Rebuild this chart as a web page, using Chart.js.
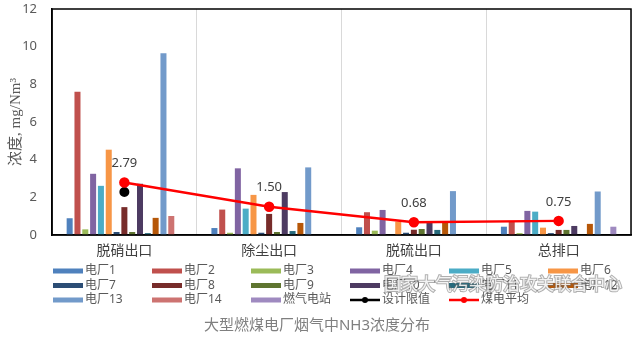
<!DOCTYPE html>
<html>
<head>
<meta charset="utf-8">
<script src="https://cdn.jsdelivr.net/npm/chart.js@4.4.1/dist/chart.umd.min.js"></script>
<style>
  html, body { margin: 0; padding: 0; background: #fff; }
  #wrap { width: 634px; height: 341px; }
</style>
</head>
<body>
<div id="wrap"><canvas id="nh3_chart" width="634" height="341"></canvas></div>
<script>
// categories and tick labels
const categories = ['脱硝出口', '除尘出口', '脱硫出口', '总排口'];
const yTicks = [0, 2, 4, 6, 8, 10, 12];

// NH3 concentration per plant, mg/Nm3
const plant1 = [0.89, 0.37, 0.41, 0.44];
const plant2 = [7.61, 1.35, 1.21, 0.71];
const plant3 = [0.30, 0.12, 0.23, 0.10];
const plant4 = [3.25, 3.54, 1.33, 1.28];
const plant5 = [2.61, 1.40, 0, 1.24];
const plant6 = [4.53, 2.13, 0.71, 0.39];
const plant7 = [0.16, 0.12, 0.12, 0.10];
const plant8 = [1.48, 1.12, 0.28, 0.27];
const plant9 = [0.16, 0.16, 0.32, 0.27];
const plant10 = [2.72, 2.28, 0.71, 0.48];
const plant11 = [0.10, 0.21, 0.27, 0];
const plant12 = [0.91, 0.64, 0.68, 0.59];
const plant13 = [9.65, 3.59, 2.33, 2.31];
const plant14 = [1.01, 0, 0, 0];
const gasPlant = [0, 0, 0, 0.44];
const designLimit = [2.28, null, null, null];
const coalAverage = [2.79, 1.50, 0.68, 0.75];

const barSeries = [
    ['电厂1', plant1, '#4F81BD'],
    ['电厂2', plant2, '#C0504D'],
    ['电厂3', plant3, '#9BBB59'],
    ['电厂4', plant4, '#8064A2'],
    ['电厂5', plant5, '#4BACC6'],
    ['电厂6', plant6, '#F79646'],
    ['电厂7', plant7, '#2C4D75'],
    ['电厂8', plant8, '#772C2A'],
    ['电厂9', plant9, '#5F7530'],
    ['电厂10', plant10, '#4D3B62'],
    ['电厂11', plant11, '#276A7C'],
    ['电厂12', plant12, '#B65708'],
    ['电厂13', plant13, '#729ACA'],
    ['电厂14', plant14, '#CD7371'],
    ['燃气电站', gasPlant, '#9F8AC0']
];

const cjk = "'Noto Sans', 'Noto Sans CJK SC', sans-serif";

const datasets = barSeries.map(([name, values, color]) => ({
    type: 'bar',
    label: name,
    data: values,
    backgroundColor: color,
    borderWidth: 0,
    categoryPercentage: 0.81,
    barPercentage: 0.77,
    order: 1
}));

datasets.push({
    type: 'line',
    label: '设计限值',
    data: designLimit,
    borderColor: '#000000',
    backgroundColor: '#000000',
    borderWidth: 2,
    pointRadius: 4,
    pointBackgroundColor: '#000000',
    pointBorderColor: '#000000',
    order: -1
});

datasets.push({
    type: 'line',
    label: '煤电平均',
    data: coalAverage,
    borderColor: '#FF0000',
    backgroundColor: '#FF0000',
    borderWidth: 2.5,
    pointRadius: 4,
    pointBackgroundColor: '#FF0000',
    pointBorderColor: '#FF0000',
    order: -2,
    showValues: true
});

// frame, y title, value labels, legend grid, caption, watermark
const decorations = {
    id: 'decorations',
    afterDraw(chart) {
        const ctx = chart.ctx;
        const area = chart.chartArea;
        ctx.save();

        // plot frame
        ctx.strokeStyle = '#000';
        ctx.lineWidth = 1.5;
        ctx.strokeRect(area.left, area.top, area.right - area.left, area.bottom - area.top);

        // y axis title
        ctx.save();
        ctx.translate(16, (area.top + area.bottom) / 2);
        ctx.rotate(-Math.PI / 2);
        ctx.fillStyle = '#595959';
        ctx.textAlign = 'center';
        ctx.textBaseline = 'middle';
        ctx.font = "15px 'Liberation Serif', 'Noto Sans CJK SC', serif";
        ctx.fillText('浓度, mg/Nm³', 0, 0);
        ctx.restore();

        // value labels on the average line
        chart.data.datasets.forEach((ds, i) => {
            if (!ds.showValues) return;
            const meta = chart.getDatasetMeta(i);
            meta.data.forEach((pt, j) => {
                ctx.fillStyle = '#404040';
                ctx.font = '13px ' + cjk;
                ctx.textAlign = 'center';
                ctx.textBaseline = 'middle';
                ctx.fillText(ds.data[j].toFixed(2), pt.x, pt.y - 19);
            });
        });

        // legend, 6 columns
        const colX = 53, colStep = 99;
        const rowY = [271, 285.5, 300];
        chart.data.datasets.forEach((ds, i) => {
            const col = i % 6;
            const row = Math.floor(i / 6);
            const x = colX + col * colStep;
            const y = rowY[row];
            if (ds.type === 'bar') {
                ctx.fillStyle = ds.backgroundColor;
                ctx.fillRect(x, y - 2.5, 30, 5);
            } else {
                ctx.strokeStyle = ds.borderColor;
                ctx.lineWidth = 2.5;
                ctx.beginPath();
                ctx.moveTo(x, y);
                ctx.lineTo(x + 30, y);
                ctx.stroke();
                ctx.fillStyle = ds.pointBackgroundColor;
                ctx.beginPath();
                ctx.arc(x + 15, y, 3, 0, Math.PI * 2);
                ctx.fill();
            }
            ctx.fillStyle = '#595959';
            ctx.font = '12px ' + cjk;
            ctx.textAlign = 'left';
            ctx.textBaseline = 'middle';
            ctx.fillText(ds.label, x + 32, y);
        });

        // watermark
        ctx.font = "17px 'Noto Sans CJK SC', sans-serif";
        ctx.textAlign = 'left';
        ctx.textBaseline = 'middle';
        ctx.lineWidth = 2;
        ctx.strokeStyle = 'rgba(110,110,110,0.55)';
        ctx.strokeText('国家大气污染防治攻关联合中心', 384, 284);
        ctx.fillStyle = 'rgba(255,255,255,0.85)';
        ctx.fillText('国家大气污染防治攻关联合中心', 384, 284);

        // caption
        ctx.fillStyle = '#7F7F7F';
        ctx.font = '15px ' + cjk;
        ctx.textAlign = 'center';
        ctx.fillText('大型燃煤电厂烟气中NH3浓度分布', 317, 326);

        ctx.restore();
    }
};

document.addEventListener('DOMContentLoaded', () => {
    new Chart(document.querySelector('#nh3_chart'), {
        data: {
            labels: categories,
            datasets: datasets
        },
        options: {
            responsive: false,
            animation: false,
            layout: {
                autoPadding: false,
                padding: { left: 0, right: 3, top: 9, bottom: 76 }
            },
            plugins: {
                legend: { display: false },
                tooltip: { enabled: false }
            },
            scales: {
                x: {
                    grid: {
                        display: true,
                        offset: true,
                        color: '#D9D9D9',
                        drawTicks: false
                    },
                    border: { display: true, color: '#000', width: 1.5 },
                    ticks: {
                        color: '#404040',
                        font: { size: 14, family: cjk },
                        padding: 8
                    },
                    afterFit(scale) { scale.height = 30; }
                },
                y: {
                    min: 0,
                    max: 12,
                    afterBuildTicks(scale) {
                        scale.ticks = yTicks.map(v => ({ value: v }));
                    },
                    grid: { display: false, drawTicks: false },
                    border: { display: true, color: '#000', width: 1.5 },
                    ticks: {
                        color: '#595959',
                        font: { size: 13, family: cjk },
                        padding: 15
                    },
                    afterFit(scale) {
                        scale.width = 52;
                        scale.paddingTop = 0;
                        scale.paddingBottom = 0;
                    }
                }
            }
        },
        plugins: [decorations]
    });
});
</script>
</body>
</html>
